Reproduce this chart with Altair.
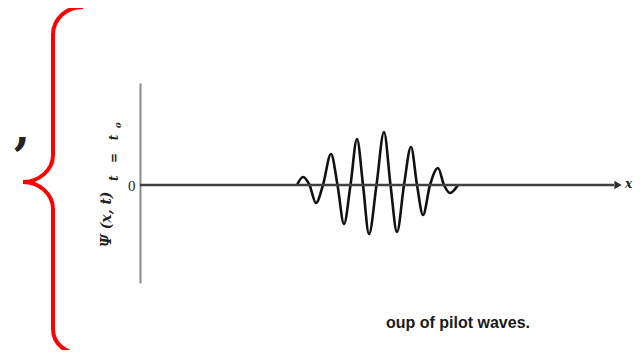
import altair as alt
import pandas as pd

# Wave packet: extrema and zero crossings (x in px from axis, y in px above baseline)
wave_x = [157, 163, 169.5, 176, 183, 191, 197.5, 204, 210.5, 217, 223, 229, 236.5, 244,
          250.5, 257, 264, 271, 277, 283, 290, 298, 304, 310, 318]
wave_y = [0, 8, 0, -18, 0, 31, 0, -39, 0, 46, 0, -49, 0, 53,
          0, -47, 0, 38, 0, -30, 0, 17, 0, -8, 0]

y_tick_values = [0]
caption = "oup of pilot waves."
y_title_main = "Ψ (x, t)"
y_title_sub = "t\u00a0\u00a0\u00a0=\u00a0\u00a0\u00a0t"
y_title_subsub = "0"
x_label = "x"

wave = pd.DataFrame({"x": wave_x, "y": wave_y})
one = pd.DataFrame({"k": [0]})

xs = alt.Scale(domain=[0, 480], nice=False, zero=False)
ys = alt.Scale(domain=[-98, 102], nice=False, zero=False)

line = alt.Chart(wave).mark_line(interpolate="monotone", color="#111111", strokeWidth=2.6).encode(
    x=alt.X("x:Q", scale=xs, axis=None),
    y=alt.Y("y:Q", scale=ys, axis=alt.Axis(values=y_tick_values, ticks=False, grid=False,
                                           domainColor="#8a8a8a", domainWidth=2,
                                           labelFont="Liberation Serif", labelFontSize=15,
                                           labelColor="#222222", labelPadding=5, title=None)),
)

base = alt.Chart(one)

hline = base.mark_rule(color="#404040", strokeWidth=2.4).encode(
    x=alt.datum(0), x2=alt.datum(474), y=alt.datum(0)
)
arrow = base.mark_point(shape="triangle-right", filled=True, color="#303030", size=70, opacity=1).encode(
    x=alt.datum(478), y=alt.datum(0)
)
xlab = base.mark_text(text=x_label, font="DejaVu Serif", fontStyle="italic", fontWeight="bold",
                      fontSize=12, color="#222222", align="center", baseline="middle").encode(
    x=alt.datum(488.5), y=alt.datum(1)
)

t_main = base.mark_text(text=y_title_main, font="DejaVu Serif", fontStyle="italic", fontWeight="bold",
                        fontSize=14, angle=270, align="left", baseline="middle", color="#222222").encode(
    x=alt.value(-33), y=alt.value(164)
)
t_sub = base.mark_text(text=y_title_sub, font="DejaVu Serif", fontStyle="italic", fontWeight="bold",
                       fontSize=12, angle=270, align="left", baseline="middle", color="#222222").encode(
    x=alt.value(-26), y=alt.value(98)
)
t_subsub = base.mark_text(text=y_title_subsub, font="DejaVu Serif", fontStyle="italic", fontWeight="bold",
                          fontSize=8, angle=270, align="left", baseline="middle", color="#222222").encode(
    x=alt.value(-21), y=alt.value(45)
)

cap = base.mark_text(text=caption, font="Liberation Sans", fontWeight="bold", fontSize=16,
                     align="left", baseline="middle", color="#1a1a1a").encode(
    x=alt.value(246), y=alt.value(240)
)

comma = base.mark_text(text=",", font="DejaVu Serif", fontWeight="bold", fontSize=46,
                       align="center", baseline="alphabetic", color="#222222").encode(
    x=alt.value(-118), y=alt.value(61)
)

brace_path = ("M 0.30 -1.74 C 0.13 -1.74 0 -1.62 0 -1.46 L 0 -0.26 C 0 -0.11 -0.14 0.01 -0.30 0.01 "
              "C -0.14 0.01 0 0.13 0 0.28 L 0 1.48 C 0 1.63 0.13 1.73 0.30 1.73")
brace = base.mark_point(shape=brace_path, filled=False, color="#ff0000", strokeWidth=4,
                        size=40000, opacity=1).encode(
    x=alt.value(-87), y=alt.value(98)
)

chart = alt.layer(line, hline, arrow, xlab, t_main, t_sub, t_subsub, cap, comma, brace).properties(
    width=480, height=200,
    autosize=alt.AutoSizeParams(type="none"),
    padding={"left": 132, "top": 75, "right": 13, "bottom": 67},
    background="white",
).configure_view(stroke=None)

chart.save("out.html", embed_options={"renderer": "svg", "actions": False})
